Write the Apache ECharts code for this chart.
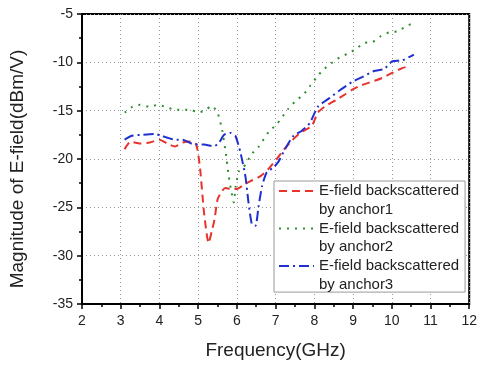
<!DOCTYPE html>
<html>
<head>
<meta charset="utf-8">
<script src="https://cdn.jsdelivr.net/npm/echarts@6/dist/echarts.min.js"></script>
<style>
  html, body { margin: 0; padding: 0; background: #fff; }
  #chart { width: 480px; height: 365px; }
</style>
</head>
<body>
<div id="chart"></div>
<script>
// anchor1 (red dashed)
const freq1 = [3.1, 3.25, 3.5, 3.75, 4.0, 4.2, 4.4, 4.6, 4.8, 4.95, 5.05, 5.15, 5.27, 5.35, 5.42, 5.5, 5.6, 5.7, 5.85, 6.0, 6.2, 6.4, 6.6, 6.8, 7.03, 7.2, 7.37, 7.63, 7.93, 8.09, 8.3, 8.56, 8.8, 8.99, 9.2, 9.42, 9.76, 10.01, 10.27, 10.44]
const mag1  = [-19.0, -18.2, -18.4, -18.3, -18.0, -18.4, -18.7, -18.3, -18.2, -18.5, -21.0, -25.5, -28.7, -27.5, -26.3, -24.2, -23.4, -23.0, -23.1, -23.1, -22.6, -22.2, -21.8, -21.1, -20.0, -19.1, -18.3, -17.3, -16.6, -15.2, -14.5, -13.9, -13.3, -12.8, -12.4, -12.1, -11.6, -11.1, -10.6, -10.4]
// anchor2 (green dotted)
const freq2 = [3.1, 3.3, 3.5, 3.75, 3.95, 4.15, 4.4, 4.6, 4.8, 5.0, 5.2, 5.35, 5.5, 5.62, 5.71, 5.79, 5.85, 5.92, 5.97, 6.05, 6.15, 6.26, 6.35, 6.55, 6.82, 7.03, 7.33, 7.54, 7.71, 7.88, 8.05, 8.22, 8.44, 8.65, 8.86, 9.08, 9.29, 9.5, 9.72, 9.93, 10.14, 10.36, 10.57]
const mag2  = [-15.2, -14.6, -14.4, -14.6, -14.4, -14.6, -14.9, -14.9, -14.9, -15.2, -14.9, -14.5, -15.2, -17.0, -19.3, -21.8, -23.2, -24.5, -22.8, -21.3, -20.9, -20.4, -19.6, -18.8, -17.2, -16.4, -14.8, -13.9, -13.4, -12.5, -11.6, -10.8, -10.1, -9.5, -9.1, -8.6, -8.0, -7.9, -7.3, -6.9, -6.8, -6.3, -5.9]
// anchor3 (blue dash-dot)
const freq3 = [3.1, 3.28, 3.53, 3.87, 4.05, 4.4, 4.6, 4.9, 5.15, 5.4, 5.54, 5.67, 5.84, 5.96, 6.09, 6.22, 6.3, 6.39, 6.48, 6.56, 6.65, 6.77, 6.94, 7.07, 7.24, 7.46, 7.67, 7.88, 8.09, 8.39, 8.69, 8.99, 9.25, 9.54, 9.8, 10.01, 10.27, 10.57]
const mag3  = [-18.0, -17.6, -17.5, -17.4, -17.6, -18.0, -18.0, -18.5, -18.5, -18.7, -18.3, -17.5, -17.3, -17.6, -19.3, -21.8, -24.5, -26.8, -26.9, -24.9, -22.8, -21.4, -20.9, -20.3, -19.0, -17.6, -17.1, -16.3, -14.6, -13.7, -12.8, -12.0, -11.5, -10.9, -10.7, -9.9, -9.8, -9.2]

const seriesNames = ['E-field backscattered\nby anchor1', 'E-field backscattered\nby anchor2', 'E-field backscattered\nby anchor3']
const xTicks = [2, 12, 1]
const yTicks = [-35, -5, 5]

const font = 'Liberation Sans, Arial, sans-serif'
const zip = (xs, ys) => xs.map((x, i) => [x, ys[i]])

const axisCommon = {
  axisLine: { show: true, lineStyle: { color: '#000', width: 2 } },
  axisTick: { show: true, length: 5, lineStyle: { color: '#000', width: 1.5 } },
  minorTick: { show: true, splitNumber: 2, length: 3, lineStyle: { color: '#000', width: 1.5 } },
  splitLine: { show: true, lineStyle: { color: '#999', type: [1, 3], width: 1 } },
  axisLabel: { color: '#222', fontFamily: font, fontSize: 14 }
}

const options = {
  animation: false,
  grid: { left: 80, right: 9, top: 14, bottom: 60, show: true, borderColor: '#000', borderWidth: 2 },
  xAxis: {
    type: 'value',
    min: xTicks[0], max: xTicks[1], interval: xTicks[2],
    name: 'Frequency(GHz)', nameLocation: 'middle', nameGap: 37,
    nameTextStyle: { color: '#222', fontFamily: font, fontSize: 19 },
    ...axisCommon,
    axisLabel: { ...axisCommon.axisLabel, margin: 10 }
  },
  yAxis: {
    type: 'value',
    min: yTicks[0], max: yTicks[1], interval: yTicks[2],
    name: 'Magnitude of E-field(dBm/V)', nameLocation: 'middle', nameGap: 55,
    nameTextStyle: { color: '#222', fontFamily: font, fontSize: 19, padding: [0, 20, 0, 0] },
    ...axisCommon,
    axisLabel: { ...axisCommon.axisLabel, margin: 9 }
  },
  legend: {
    orient: 'vertical',
    left: 274, top: 181,
    padding: [-18, 6, -2, 4],
    itemWidth: 35, itemHeight: 10,
    itemGap: -18.6,
    backgroundColor: '#fff',
    borderColor: '#999', borderWidth: 1,
    itemStyle: { opacity: 0 },
    // leading blank line keeps the icon level with the first text line
    formatter: name => '\n' + name,
    textStyle: { color: '#222', fontFamily: font, fontSize: 15, lineHeight: 18.7 },
    data: seriesNames
  },
  series: [
    {
      name: seriesNames[0], type: 'line', symbol: 'none', smooth: 0.2,
      data: zip(freq1, mag1),
      lineStyle: { color: '#e8322b', width: 2, type: [8, 5] },
      itemStyle: { color: '#e8322b' }
    },
    {
      name: seriesNames[1], type: 'line', symbol: 'none', smooth: 0.2,
      data: zip(freq2, mag2),
      lineStyle: { color: '#2f8f2f', width: 2, type: [2, 6] },
      itemStyle: { color: '#2f8f2f' }
    },
    {
      name: seriesNames[2], type: 'line', symbol: 'none', smooth: 0.2,
      data: zip(freq3, mag3),
      lineStyle: { color: '#1f2fd0', width: 2, type: [10, 4, 2, 4] },
      itemStyle: { color: '#1f2fd0' }
    }
  ]
}

const chart = echarts.init(document.getElementById('chart'))
chart.setOption(options)
</script>
</body>
</html>
